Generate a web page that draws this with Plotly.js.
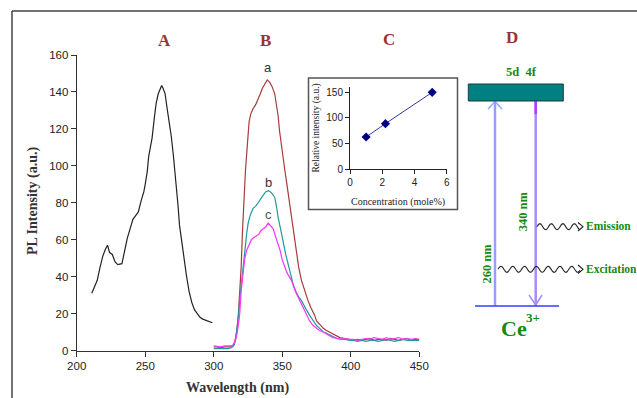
<!DOCTYPE html>
<html>
<head>
<meta charset="utf-8">
<script src="https://cdn.plot.ly/plotly-3.0.1.min.js"></script>
<style>html,body{margin:0;padding:0;background:#fff}#chart{width:637px;height:398px}</style>
</head>
<body>
<div id="chart"></div>
<script>
// ---- Data ----
var excX = [211,213,215,217,219,221,222.5,224,226,228,230,233,235,237,239,241,243,245,247,249,250,251.5,252.5,254,255,256.5,258,259.5,261,262,263,264.5,266,267.5,269,270.5,272,273,274,275,276.5,278,280,282,284,286,288,290,292,294,296,298,299];
var excY = [31,35,38,45,51,55,57,53,52,48,46.5,47,55,61,66,71,73,75,81,86,90,97,105,112,115,125,134,139,142,143.5,142,139,131,124,116,106,95,87,78,68,59,51,41,32,26,22,20,18,17,16.5,16,15.5,15];

var aX = [300,302,305,308,311,313,314,315,316,317,318,319,320,321,321.8,322.5,323.2,324.6,325.8,327,328.7,330.5,332.4,334,335.5,337,339,341,342.5,344.5,346,347,348,349.4,350.5,351.8,353,354.5,356.2,358,360.3,362,364,366,368.8,371,373.7,375,377.3,380,382,384.6,387,389,392,396,399,402,405,408,411,414,417,420,423,426,429,432,435,438,441,444,447,450];
var aY = [2,2,1.5,2,2,2,2.5,4,7,12,20,32,45,65,80,92,98,112,124,128,131,133,136,139,142,144,146.5,145,143,139,133,127,119,110,104,98,92,84,76,66,53,45,38,33,27,23,19,16,14,12,11,10,9,8,7,6.5,6,5.5,6,5.5,6,6.5,5.5,6,6,5.5,6.5,6,5.5,6,6.5,5.5,6,6];

var bX = [300,305,310,313,315,316,317,318,319,320.3,321.5,322.7,324,325.1,326.5,328.7,330.5,332.4,334,336,338,340,342,344.5,346,347,349,350.6,352.5,354.2,356,357.9,360,362,364,366,367.6,370,372.5,375,377.3,380,382,384.6,387,390,393,396,399,402,405,408,411,414,417,420,423,426,429,432,435,438,441,444,447,450];
var bY = [1,1,1,1.5,3,6,11,18,28,38,47,56,63,69,73,77,78,80,82,84,86,86.5,85.5,83,77,72,65,58,52,47,41,36,32,29,27,24,22,19,16,13.5,12,10,9.5,8.5,7.5,6.5,6,6,5.5,5.5,5,5.5,5,5.5,5.5,5,5.5,6,5.5,5,5.5,6,5.5,5.5,5.5,5.5];

var cX = [300,305,308,311,313,314,315,316,317,318,319,320,321.4,322.5,323.9,325.5,327.5,329,331.2,333,334.5,336,338,339.7,341,343.3,345,346.9,348.5,350,351.8,353.5,356.7,359,361.5,364,367.6,370,372.5,375,377,379.8,383,387,390,393,396,399,402,405,408,411,414,417,420,423,426,429,432,435,438,441,444,447,450];
var cY = [2.5,2,2.5,2.5,2.5,3,4,6,9,14,20,32,43,49,54,57,60,61,62,63,65,66,67,69,68,66,62,58,54,49,45,42,38,33,29,25,19,16,13.5,12,11,10,8.5,7,6.5,6,6.5,6,6,5.5,6,6.5,6,7,6.5,6,7,6,6.5,7,6,6.5,6,6.5,6];

var concX = [1, 2.2, 5.1];
var concY = [63, 89, 150];

var mainXTicks = [200,250,300,350,400,450];
var mainYTicks = [0,20,40,60,80,100,120,140,160];
var insetXTicks = [0,2,4,6];
var insetYTicks = [0,50,100,150];

// ---- helpers (pixel -> paper) ----
var W = 637, H = 398;
function px(x){return x/W;}
function py(y){return 1 - y/H;}
function P(x,y){return px(x).toFixed(5)+','+py(y).toFixed(5);}

var sans = 'Liberation Sans, Arial, sans-serif';
var serif = 'Liberation Serif, Times New Roman, serif';
var green = '#138a13';
var darkRed = '#993333';

var traces = [
  {x:excX, y:excY, mode:'lines', line:{color:'#222', width:1.2}, xaxis:'x', yaxis:'y', hoverinfo:'skip'},
  {x:aX, y:aY, mode:'lines', line:{color:'#a83a3a', width:1.2}, xaxis:'x', yaxis:'y', hoverinfo:'skip'},
  {x:bX, y:bY, mode:'lines', line:{color:'#1f9a9a', width:1.2}, xaxis:'x', yaxis:'y', hoverinfo:'skip'},
  {x:cX, y:cY, mode:'lines', line:{color:'#ff33ff', width:1.2}, xaxis:'x', yaxis:'y', hoverinfo:'skip'},
  {x:concX, y:concY, mode:'lines+markers', line:{color:'#3333aa', width:1}, marker:{symbol:'diamond', size:7, color:'#000080'}, xaxis:'x2', yaxis:'y2', hoverinfo:'skip'}
];

// ---- shapes ----
var shapes = [];
shapes.push({type:'line', xref:'paper', yref:'paper', x0:px(12), y0:py(11), x1:px(660), y1:py(11), line:{color:'#444', width:1.5}});
shapes.push({type:'line', xref:'paper', yref:'paper', x0:px(12), y0:py(11), x1:px(12), y1:py(420), line:{color:'#444', width:1.5}});
shapes.push({type:'rect', xref:'paper', yref:'paper', x0:px(308.5), y0:py(78), x1:px(457.5), y1:py(209.5), line:{color:'#555', width:1.5}, layer:'below', fillcolor:'rgba(0,0,0,0)'});
shapes.push({type:'line', xref:'paper', yref:'paper', x0:px(495), y0:py(306), x1:px(495), y1:py(101), line:{color:'#9c9cff', width:2.5}});
shapes.push({type:'path', xref:'paper', yref:'paper', path:'M'+P(488,109)+' L'+P(495,101.5)+' L'+P(502,109), line:{color:'#88aaff', width:1.5}});
shapes.push({type:'line', xref:'paper', yref:'paper', x0:px(535.7), y0:py(101), x1:px(535.7), y1:py(306), line:{color:'#a68cff', width:2.5}});
shapes.push({type:'line', xref:'paper', yref:'paper', x0:px(535.7), y0:py(101), x1:px(535.7), y1:py(114), line:{color:'#b040ff', width:2.5}});
shapes.push({type:'path', xref:'paper', yref:'paper', path:'M'+P(529,295)+' L'+P(535.7,305)+' L'+P(542,295), line:{color:'#a68cff', width:1.5}});
shapes.push({type:'line', xref:'paper', yref:'paper', x0:px(475), y0:py(306), x1:px(559), y1:py(306), line:{color:'#2f3fff', width:1.5}});
shapes.push({type:'rect', xref:'paper', yref:'paper', x0:px(468.3), y0:py(84), x1:px(563.3), y1:py(101), fillcolor:'#008080', line:{color:'#1d3b3b', width:1}});
function wave(x0, x1, y0, period, amp){
  var s = 'M'+P(x0,y0);
  for (var t = x0+1; t <= x1; t += 1){
    s += ' L'+P(t, y0 - amp*Math.sin(2*Math.PI*(t-x0)/period));
  }
  return s;
}
shapes.push({type:'path', xref:'paper', yref:'paper', path:wave(537,580,226.7,11.5,3), line:{color:'#222', width:1.1}});
shapes.push({type:'path', xref:'paper', yref:'paper', path:'M'+P(578,222.5)+' L'+P(583,226.7)+' L'+P(578,231), line:{color:'#222', width:1.1}});
shapes.push({type:'path', xref:'paper', yref:'paper', path:wave(498,580,269.3,11.8,3), line:{color:'#222', width:1.1}});
shapes.push({type:'path', xref:'paper', yref:'paper', path:'M'+P(578,265)+' L'+P(583,269.3)+' L'+P(578,273.5), line:{color:'#222', width:1.1}});

// ---- annotations ----
function ann(text, x, y, font, opts){
  var a = {text:text, xref:'paper', yref:'paper', x:px(x), y:py(y), showarrow:false, xanchor:'center', yanchor:'middle', font:font};
  if (opts) for (var k in opts) a[k] = opts[k];
  return a;
}
var panelFont = {family:serif, size:17, color:darkRed};
var annotations = [
  ann('<b>A</b>', 165, 41, panelFont),
  ann('<b>B</b>', 265, 41, panelFont),
  ann('<b>C</b>', 388.5, 39.5, panelFont),
  ann('<b>D</b>', 511.7, 37, panelFont),
  ann('a', 268.3, 67, {family:sans, size:13, color:'#333'}),
  ann('b', 268.3, 182, {family:sans, size:13, color:'#333'}),
  ann('c', 268.3, 214, {family:sans, size:13, color:'#555'}),
  ann('<b>PL Intensity (a.u.)</b>', 33, 201, {family:serif, size:14, color:'#333'}, {textangle:-90}),
  ann('<b>Wavelength (nm)</b>', 237.5, 388, {family:serif, size:14, color:'#333'}),
  ann('Relative intensity (a.u.)', 315.5, 128, {family:serif, size:9.5, color:'#222'}, {textangle:-90}),
  ann('Concentration (mole%)', 398, 202.5, {family:serif, size:10, color:'#222'}),
  ann('<b>5d  4f</b>', 521.7, 71.5, {family:serif, size:12.5, color:green}),
  ann('<b>340 nm</b>', 523.3, 211, {family:serif, size:12.5, color:green}, {textangle:-90}),
  ann('<b>260 nm</b>', 486, 263.5, {family:serif, size:12.5, color:green}, {textangle:-90}),
  ann('<b>Emission</b>', 584, 226, {family:serif, size:11.5, color:green}, {xanchor:'left'}),
  ann('<b>Excitation</b>', 583.5, 268.5, {family:serif, size:11.5, color:green}, {xanchor:'left'}),
  ann('<b>Ce</b>', 514, 328, {family:serif, size:22, color:green}),
  ann('<b>3+</b>', 533, 317.5, {family:serif, size:13, color:green})
];

var layout = {
  width:W, height:H,
  margin:{l:0, r:0, t:0, b:0, pad:0},
  paper_bgcolor:'#fff', plot_bgcolor:'rgba(0,0,0,0)',
  showlegend:false,
  xaxis:{domain:[px(76.7), px(419.3)], range:[200,450], tickvals:mainXTicks, ticks:'outside', ticklen:5, tickcolor:'#333', showline:true, linecolor:'#333', linewidth:1, showgrid:false, zeroline:false, tickfont:{family:sans, size:11.5, color:'#222'}, anchor:'y', fixedrange:true},
  yaxis:{domain:[py(350.5), py(55)], range:[0,160], tickvals:mainYTicks, ticks:'outside', ticklen:5, tickcolor:'#333', showline:true, linecolor:'#333', linewidth:1, showgrid:false, zeroline:false, tickfont:{family:sans, size:11.5, color:'#222'}, anchor:'x', fixedrange:true},
  xaxis2:{domain:[px(350), px(446.7)], range:[0,6], tickvals:insetXTicks, ticks:'outside', ticklen:4, tickcolor:'#222', showline:true, linecolor:'#222', linewidth:1, showgrid:false, zeroline:false, tickfont:{family:sans, size:10, color:'#222'}, anchor:'y2', fixedrange:true},
  yaxis2:{domain:[py(169.3), py(87.2)], range:[0,160], tickvals:insetYTicks, ticks:'outside', ticklen:4, tickcolor:'#222', showline:true, linecolor:'#222', linewidth:1, showgrid:false, zeroline:false, tickfont:{family:sans, size:10, color:'#222'}, anchor:'x2', fixedrange:true},
  shapes:shapes,
  annotations:annotations
};

Plotly.newPlot('chart', traces, layout, {displayModeBar:false, staticPlot:true});
</script>
</body>
</html>
